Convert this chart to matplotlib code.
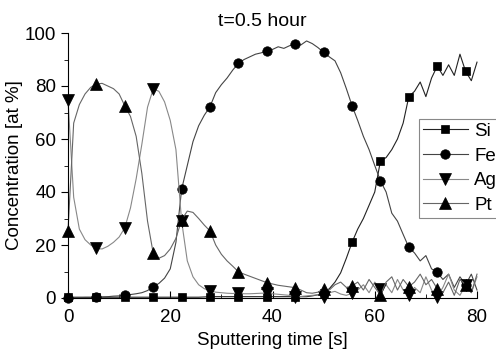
import numpy as np
import matplotlib
matplotlib.use("Agg")
import matplotlib.pyplot as plt
from matplotlib.ticker import MultipleLocator

# sputtering time, one reading every 80/72 s
time_s = np.arange(73) * 80 / 72

si = [0.3, 0.3, 0.3, 0.3, 0.3, 0.3, 0.3, 0.3, 0.3, 0.3,
      0.3, 0.3, 0.3, 0.3, 0.3, 0.3, 0.3, 0.3, 0.3, 0.3,
      0.3, 0.3, 0.3, 0.3, 0.4, 0.5, 0.5, 0.5, 0.5, 0.5,
      0.5, 0.5, 0.5, 0.5, 0.5, 0.5, 0.5, 0.5, 0.5, 0.5,
      0.3, 0.5, 0.5, 0.8, 1.2, 2.0, 3.5, 6.0, 9.5, 15.0,
      21.0, 26.0, 30.0, 35.0, 40.0, 51.7, 53.0, 56.0, 60.0, 66.0,
      76.0, 78.0, 81.5, 76.0, 83.0, 87.5, 84.0, 88.0, 84.0, 92.0,
      85.5, 82.0, 89.0]

fe = [0.0, 0.1, 0.1, 0.2, 0.2, 0.3, 0.4, 0.5, 0.7, 0.8,
      1.0, 1.3, 1.6, 2.0, 2.8, 4.3, 5.5, 7.5, 11.0, 21.0,
      41.0, 50.0, 59.0, 65.0, 69.0, 72.2, 77.5, 80.5, 83.0, 86.0,
      88.6, 90.0, 91.0, 92.0, 92.5, 93.3, 93.8, 94.8, 94.2, 95.2,
      95.8, 95.5, 97.0, 96.0, 94.5, 92.7, 91.0, 89.5, 85.0, 79.0,
      72.6, 67.0, 61.0, 56.0, 50.0, 44.2, 40.0, 32.0, 29.0, 24.0,
      19.1, 17.0, 14.0, 16.0, 11.0, 9.7, 7.0, 9.0, 4.0, 8.0,
      5.0, 9.0, 3.0]

ag = [74.7, 38.0, 26.0, 22.0, 20.0, 18.7, 18.5, 19.5, 21.0, 23.0,
      26.5, 34.0, 45.0, 58.0, 72.0, 78.9, 78.0, 74.0, 67.0, 56.0,
      29.0, 14.0, 8.0, 5.0, 3.5, 2.8, 2.2, 2.0, 1.8, 1.7,
      1.8, 1.6, 1.6, 1.7, 1.8, 1.8, 1.6, 1.4, 1.2, 1.0,
      0.5, 0.6, 0.8, 1.0, 1.2, 0.5, 2.0, 2.5, 1.5, 1.0,
      1.8, 3.0, 5.0, 2.0, 6.0, 3.4, 5.0, 2.0, 7.0, 3.0,
      1.0, 4.0, 2.0, 8.0, 3.0, 0.5, 4.0, 9.0, 3.0, 1.0,
      5.0, 2.0, 8.0]

pt = [25.4, 66.0, 73.0, 77.0, 79.5, 80.7, 81.0, 80.0, 79.0, 77.0,
      72.5, 68.5, 61.0, 47.0, 29.0, 16.9, 15.0, 16.0, 18.5, 22.5,
      29.5, 32.8, 32.3, 30.0, 27.5, 25.3, 20.0, 16.5, 14.0, 12.0,
      9.9, 9.0, 8.2, 7.4, 6.6, 5.8, 5.3, 4.8, 4.5, 4.2,
      3.9, 3.0, 2.0, 1.8, 2.2, 3.5, 3.0, 5.0, 6.0, 4.0,
      4.5, 6.0, 3.0, 7.0, 4.0, 1.1, 6.0, 8.0, 3.0, 7.0,
      4.3, 6.0, 9.0, 5.0, 7.0, 3.5, 2.0, 6.0, 1.0, 7.0,
      5.0, 2.0, 9.0]

series = [
    ("Si", si, "s", 6.0, "#222222"),
    ("Fe", fe, "o", 6.8, "#444444"),
    ("Ag", ag, "v", 8.0, "#888888"),
    ("Pt", pt, "^", 8.0, "#666666"),
]

plt.rcParams["font.family"] = ["Liberation Sans", "DejaVu Sans"]

fig = plt.figure(figsize=(4.96, 3.54), dpi=100)
ax = fig.add_axes([68 / 496, 1 - 298 / 354, 409 / 496, 265 / 354])

for name, values, marker, size, colour in series:
    ax.plot(time_s, values, color=colour, linewidth=0.8,
            marker=marker, markersize=size, markevery=5,
            markerfacecolor="black", markeredgecolor="black",
            markeredgewidth=0.5, label=name, clip_on=False)

ax.set_xlim(0, 80)
ax.set_ylim(0, 100)
ax.spines["top"].set_visible(False)
ax.spines["right"].set_visible(False)
ax.xaxis.set_major_locator(MultipleLocator(20))
ax.xaxis.set_minor_locator(MultipleLocator(10))
ax.yaxis.set_major_locator(MultipleLocator(20))
ax.yaxis.set_minor_locator(MultipleLocator(10))
ax.tick_params(axis="x", which="both", direction="in", labelsize=13.5, pad=8)
ax.tick_params(axis="x", which="major", length=5)
ax.tick_params(axis="x", which="minor", length=3)
ax.tick_params(axis="y", which="both", direction="out", labelsize=13.5)
ax.tick_params(axis="y", which="major", length=5)
ax.tick_params(axis="y", which="minor", length=3)

ax.set_xlabel("Sputtering time [s]", fontsize=13.5, labelpad=4)
ax.set_ylabel("Concentration [at %]", fontsize=13.5, labelpad=1)
fig.text(262 / 496, 1 - 21 / 354, "t=0.5 hour", ha="center", va="center",
         fontsize=14)

leg = ax.legend(loc="upper left", bbox_to_anchor=(419 / 496, 1 - 119 / 354),
                bbox_transform=fig.transFigure, fontsize=13.5, fancybox=False,
                framealpha=1, edgecolor="#888888", handlelength=2.4,
                handletextpad=0.35, labelspacing=0.4, borderpad=0.2,
                borderaxespad=0)
leg.get_frame().set_linewidth(0.8)

fig.savefig("out.png", dpi=100)
